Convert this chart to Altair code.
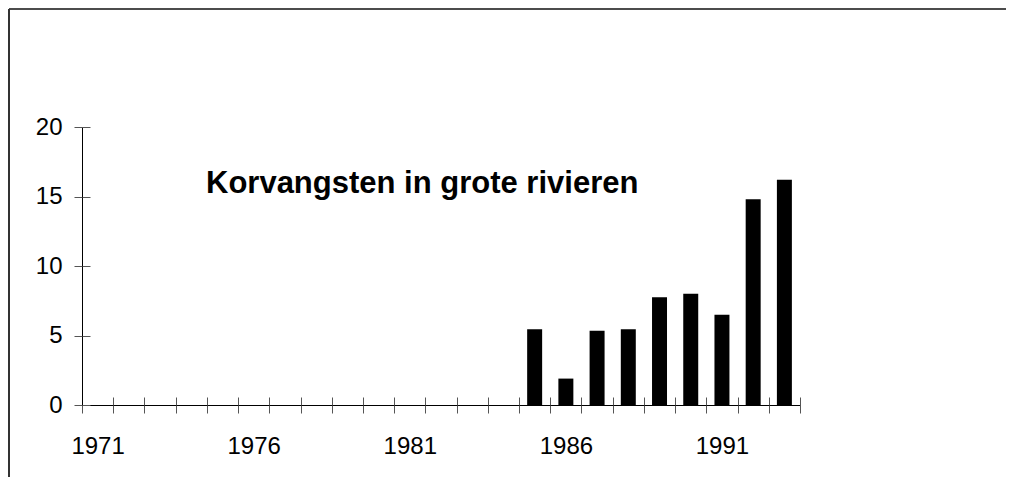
import altair as alt
import pandas as pd

# ---- data ----
all_years = [str(y) for y in range(1971, 1994)]
bar_years = ["1985", "1986", "1987", "1988", "1989", "1990", "1991", "1992", "1993"]
catches = [5.45, 1.9, 5.35, 5.45, 7.75, 8.0, 6.5, 14.8, 16.2]
label_years = ["1971", "1976", "1981", "1986", "1991"]
y_ticks = [0, 5, 10, 15, 20]
chart_title = "Korvangsten in grote rivieren"

df = pd.DataFrame({"year": bar_years, "value": catches})

FONT = "Liberation Sans"
W, H = 718, 278

label_list = "[" + ",".join("'%s'" % y for y in label_years) + "]"
label_expr = "indexof(%s, datum.label) >= 0 ? datum.label : ''" % label_list

x_scale = alt.Scale(domain=all_years, paddingInner=0, paddingOuter=0)
y_scale = alt.Scale(domain=[0, 20], nice=False)

bars = alt.Chart(df).mark_bar(color="black", width={"band": 0.48}).encode(
    x=alt.X("year:O", scale=x_scale, sort=all_years,
            axis=alt.Axis(title=None, orient="bottom", tickBand="extent", labelAngle=0,
                          labelExpr=label_expr, labelFont=FONT, labelFontSize=24,
                          labelColor="black", labelPadding=21,
                          domainColor="black", tickColor="#555", tickSize=8,
                          labelOverlap=False)),
    y=alt.Y("value:Q", scale=y_scale,
            axis=alt.Axis(title=None, orient="left", values=y_ticks, labelFont=FONT,
                          labelFontSize=24, labelColor="black", labelPadding=12, grid=False,
                          domainColor="black", tickColor="#555", tickSize=8)),
)

# second set of ticks pointing into the plot, so ticks cross the axis lines
inner_ticks = alt.Chart(df).mark_bar(opacity=0).encode(
    x=alt.X("year:O", scale=x_scale, sort=all_years,
            axis=alt.Axis(title=None, orient="top", offset=-H, tickBand="extent",
                          labels=False, domain=False, tickColor="#555", tickSize=8)),
    y=alt.Y("value:Q", scale=y_scale,
            axis=alt.Axis(title=None, orient="right", offset=-W, values=y_ticks,
                          labels=False, domain=False, grid=False,
                          tickColor="#555", tickSize=8)),
)

title_text = alt.Chart(pd.DataFrame({"t": [chart_title]})).mark_text(
    font=FONT, fontSize=31, fontWeight="bold", color="black",
    align="left", baseline="alphabetic",
).encode(text="t:N", x=alt.value(124), y=alt.value(66))

frame_top = alt.Chart(pd.DataFrame({"a": [0]})).mark_rule(
    color="#111", strokeWidth=1.5, clip=False
).encode(x=alt.value(-73), x2=alt.value(1100), y=alt.value(-118))

frame_left = alt.Chart(pd.DataFrame({"a": [0]})).mark_rule(
    color="#333", strokeWidth=2, clip=False
).encode(x=alt.value(-73), y=alt.value(-118), y2=alt.value(700))

chart = alt.layer(frame_top, frame_left, bars, inner_ticks, title_text).resolve_axis(
    x="independent", y="independent"
).properties(
    width=W, height=H, autosize="none",
    padding={"left": 74, "top": 119, "right": 206, "bottom": 72},
).configure_view(strokeWidth=0)

chart.save("out.html", embed_options={"renderer": "svg", "actions": False})
